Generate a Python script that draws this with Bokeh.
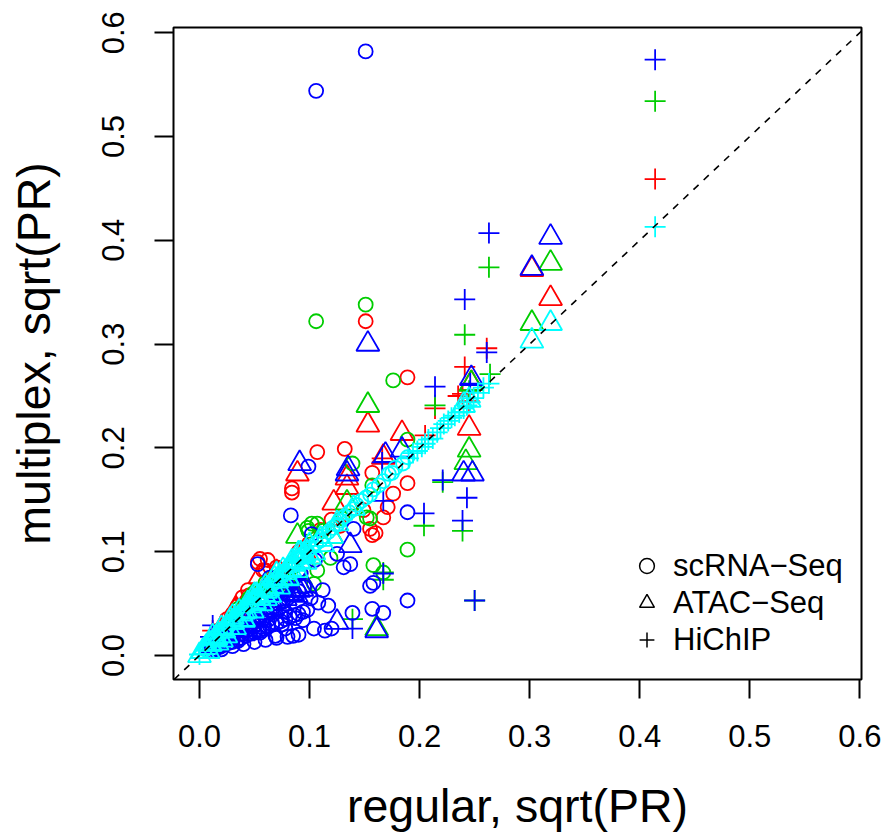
from bokeh.plotting import figure
from bokeh.models import Range1d, FixedTicker, PrintfTickFormatter, Slope, Legend, LegendItem
from bokeh.embed import file_html
from bokeh.resources import INLINE

FONT = "Liberation Sans"
NAN = float("nan")

x_ticks = [0.0, 0.1, 0.2, 0.3, 0.4, 0.5, 0.6]
y_ticks = [0.0, 0.1, 0.2, 0.3, 0.4, 0.5, 0.6]
legend_labels = ["scRNA\u2212Seq", "ATAC\u2212Seq", "HiChIP"]

# ---------------- red ----------------
red_circle_x = [0.151, 0.189, 0.107, 0.132, 0.084, 0.157, 0.189, 0.176, 0.171, 0.155, 0.157, 0.160,
                0.167, 0.149, 0.084, 0.053, 0.062, 0.058, 0.055, 0.060, 0.039, 0.044, 0.043, 0.030,
                0.070, 0.090, 0.110, 0.120, 0.128, 0.025, 0.035, 0.045, 0.075, 0.085]
red_circle_y = [0.322, 0.268, 0.196, 0.199, 0.161, 0.176, 0.166, 0.156, 0.143, 0.122, 0.116, 0.118,
                0.133, 0.140, 0.157, 0.090, 0.092, 0.082, 0.093, 0.082, 0.056, 0.063, 0.053, 0.040,
                0.085, 0.100, 0.121, 0.131, 0.125, 0.035, 0.048, 0.058, 0.070, 0.090]
red_tri_x = [0.319, 0.302, 0.153, 0.184, 0.245, 0.089, 0.134, 0.134, 0.122, 0.167, 0.247, 0.055,
             0.045, 0.070, 0.095, 0.033, 0.020, 0.060]
red_tri_y = [0.344, 0.372, 0.222, 0.214, 0.219, 0.175, 0.171, 0.162, 0.147, 0.191, 0.262, 0.076,
             0.052, 0.080, 0.100, 0.045, 0.026, 0.066]
red_cross_x = [0.414, 0.261, 0.241, 0.239, 0.214, 0.205, 0.245, 0.166, 0.235, 0.012, 0.020]
red_cross_y = [0.459, 0.296, 0.278, 0.252, 0.238, 0.212, 0.245, 0.190, 0.250, 0.024, 0.030]

# ---------------- green ----------------
green_circle_x = [0.151, 0.106, 0.176, 0.189, 0.189, 0.158, 0.167, 0.139, 0.107, 0.098, 0.112, 0.155,
                  0.102, 0.099, 0.119, 0.130, 0.052, 0.066, 0.107, 0.104, 0.040, 0.096, 0.157, 0.152,
                  0.060, 0.075, 0.085, 0.030, 0.020, 0.049, 0.058, 0.035, 0.045, 0.070, 0.080,
                  0.090, 0.065]
green_circle_y = [0.338, 0.322, 0.265, 0.208, 0.102, 0.087, 0.080, 0.185, 0.127, 0.123, 0.120, 0.132,
                  0.127, 0.120, 0.094, 0.132, 0.063, 0.066, 0.082, 0.069, 0.048, 0.067, 0.164, 0.133,
                  0.070, 0.080, 0.085, 0.035, 0.025, 0.060, 0.055, 0.045, 0.055, 0.060, 0.070,
                  0.080, 0.075]
green_tri_x = [0.319, 0.302, 0.153, 0.245, 0.242, 0.247, 0.161, 0.089, 0.134, 0.061, 0.075, 0.045,
               0.070, 0.120, 0.030, 0.055]
green_tri_y = [0.378, 0.320, 0.241, 0.198, 0.186, 0.262, 0.026, 0.115, 0.147, 0.058, 0.065, 0.042,
               0.068, 0.115, 0.030, 0.050]
green_cross_x = [0.414, 0.263, 0.241, 0.264, 0.214, 0.221, 0.204, 0.239, 0.167, 0.250, 0.139, 0.245,
                 0.167]
green_cross_y = [0.534, 0.374, 0.309, 0.271, 0.241, 0.167, 0.125, 0.120, 0.073, 0.053, 0.035, 0.255,
                 0.080]

# ---------------- blue ----------------
blue_circle_x = [0.151, 0.106, 0.099, 0.083, 0.189, 0.189, 0.137, 0.131, 0.125, 0.155, 0.158, 0.139,
                 0.157, 0.167, 0.114, 0.085, 0.069, 0.053, 0.112, 0.108, 0.117, 0.101, 0.087, 0.094,
                 0.078, 0.104, 0.120, 0.062, 0.057, 0.140, 0.102, 0.105, 0.064,
                 0.012, 0.016, 0.020, 0.024, 0.028, 0.032, 0.036, 0.040, 0.044, 0.048, 0.052, 0.056,
                 0.060, 0.064, 0.068, 0.072, 0.076, 0.080, 0.085, 0.090, 0.095, 0.018, 0.026, 0.034,
                 0.042, 0.050, 0.058, 0.066, 0.074, 0.082, 0.092, 0.030, 0.046, 0.062, 0.078,
                 0.020, 0.030, 0.040, 0.050, 0.060, 0.070, 0.080, 0.090, 0.035, 0.055, 0.075,
                 0.010, 0.014, 0.018, 0.022, 0.026, 0.030, 0.034, 0.038, 0.042, 0.046, 0.050, 0.054,
                 0.058, 0.062, 0.066, 0.070, 0.074, 0.078, 0.082, 0.086, 0.090, 0.094, 0.098]
blue_circle_y = [0.582, 0.544, 0.182, 0.135, 0.138, 0.053, 0.088, 0.085, 0.098, 0.067, 0.070, 0.041,
                 0.045, 0.041, 0.024, 0.019, 0.019, 0.088, 0.063, 0.051, 0.048, 0.055, 0.036, 0.034,
                 0.026, 0.026, 0.026, 0.039, 0.024, 0.122, 0.117, 0.092, 0.075,
                 0.010, 0.012, 0.015, 0.017, 0.020, 0.022, 0.025, 0.028, 0.030, 0.033, 0.035, 0.038,
                 0.041, 0.044, 0.047, 0.050, 0.052, 0.055, 0.059, 0.062, 0.066, 0.016, 0.022, 0.029,
                 0.036, 0.043, 0.050, 0.057, 0.064, 0.070, 0.079, 0.018, 0.026, 0.034, 0.042,
                 0.006, 0.009, 0.011, 0.013, 0.015, 0.017, 0.018, 0.020, 0.014, 0.022, 0.030,
                 0.005, 0.006, 0.008, 0.010, 0.012, 0.013, 0.015, 0.017, 0.019, 0.021, 0.022, 0.024,
                 0.026, 0.028, 0.030, 0.031, 0.033, 0.035, 0.037, 0.039, 0.040, 0.042, 0.044]
blue_tri_x = [0.319, 0.302, 0.247, 0.240, 0.248, 0.153, 0.091, 0.134, 0.135, 0.169, 0.184, 0.137,
              0.161, 0.125, 0.078, 0.084, 0.072,
              0.015, 0.025, 0.035, 0.045, 0.055, 0.065, 0.088, 0.093, 0.050, 0.040,
              0.012, 0.018, 0.024, 0.030, 0.036, 0.042, 0.048, 0.054, 0.060, 0.066, 0.072, 0.078,
              0.084, 0.090, 0.096]
blue_tri_y = [0.403, 0.373, 0.267, 0.175, 0.175, 0.300, 0.185, 0.175, 0.180, 0.193, 0.198, 0.106,
              0.024, 0.032, 0.063, 0.060, 0.053,
              0.011, 0.017, 0.024, 0.030, 0.036, 0.044, 0.058, 0.064, 0.028, 0.021,
              0.009, 0.013, 0.017, 0.021, 0.025, 0.029, 0.034, 0.038, 0.042, 0.046, 0.050, 0.055,
              0.059, 0.063, 0.067]
blue_cross_x = [0.414, 0.263, 0.241, 0.261, 0.214, 0.246, 0.221, 0.243, 0.204, 0.239, 0.167, 0.250,
                0.139, 0.167, 0.166, 0.012, 0.018, 0.010]
blue_cross_y = [0.574, 0.407, 0.343, 0.292, 0.259, 0.262, 0.169, 0.152, 0.137, 0.130, 0.079, 0.053,
                0.026, 0.149, 0.186, 0.029, 0.022, 0.018]

# ---------------- cyan ----------------
cyan_circle_x = [0.189, 0.178, 0.172, 0.167, 0.158, 0.151, 0.143, 0.136, 0.128, 0.121, 0.113, 0.106,
                 0.098, 0.091, 0.083, 0.076, 0.068, 0.061, 0.054, 0.047, 0.040, 0.033, 0.026, 0.019,
                 0.012, 0.005, 0.185, 0.175, 0.163, 0.155, 0.147, 0.140, 0.132, 0.125, 0.117, 0.110,
                 0.102]
cyan_circle_y = [0.191, 0.181, 0.175, 0.168, 0.160, 0.152, 0.145, 0.138, 0.130, 0.123, 0.115, 0.108,
                 0.100, 0.093, 0.086, 0.078, 0.070, 0.063, 0.056, 0.049, 0.042, 0.035, 0.028, 0.021,
                 0.014, 0.006, 0.185, 0.176, 0.164, 0.155, 0.149, 0.141, 0.134, 0.126, 0.119, 0.111,
                 0.104]
cyan_tri_x = [0.319, 0.302, 0.000, 0.003, 0.245, 0.240, 0.140, 0.125, 0.110, 0.095, 0.080, 0.070,
              0.060, 0.050, 0.040, 0.030, 0.022, 0.015, 0.009,
              0.006, 0.010, 0.014, 0.018, 0.022, 0.026, 0.030, 0.034, 0.038, 0.042, 0.046, 0.050,
              0.054, 0.058, 0.062, 0.066, 0.070, 0.074, 0.078, 0.082, 0.086, 0.090, 0.094, 0.098,
              0.020, 0.040, 0.060, 0.080, 0.100, 0.030, 0.050, 0.070, 0.090,
              0.008, 0.016, 0.024, 0.032, 0.040, 0.048, 0.056, 0.064, 0.072, 0.080, 0.088, 0.096,
              0.104, 0.112, 0.120,
              0.012, 0.020, 0.028, 0.036, 0.044, 0.052, 0.060, 0.068, 0.076, 0.084, 0.092, 0.100]
cyan_tri_y = [0.320, 0.303, 0.000, 0.004, 0.246, 0.241, 0.142, 0.127, 0.112, 0.097, 0.082, 0.072,
              0.062, 0.052, 0.042, 0.032, 0.024, 0.017, 0.011,
              0.008, 0.011, 0.016, 0.019, 0.024, 0.027, 0.032, 0.035, 0.040, 0.043, 0.048, 0.051,
              0.056, 0.059, 0.064, 0.067, 0.072, 0.075, 0.080, 0.083, 0.088, 0.091, 0.096, 0.099,
              0.015, 0.034, 0.055, 0.075, 0.095, 0.037, 0.058, 0.078, 0.098,
              0.004, 0.012, 0.019, 0.027, 0.035, 0.043, 0.050, 0.058, 0.066, 0.074, 0.082, 0.090,
              0.099, 0.107, 0.115,
              0.018, 0.026, 0.034, 0.042, 0.050, 0.058, 0.066, 0.074, 0.082, 0.090, 0.098, 0.106]
cyan_cross_x = [0.414, 0.263, 0.253, 0.249, 0.246, 0.243, 0.240, 0.236, 0.232, 0.226, 0.219, 0.212,
                0.205, 0.198, 0.130, 0.100, 0.075, 0.050, 0.030, 0.015, 0.000,
                0.258, 0.229, 0.222, 0.216, 0.208, 0.202, 0.194, 0.190]
cyan_cross_y = [0.413, 0.262, 0.253, 0.248, 0.244, 0.241, 0.238, 0.234, 0.231, 0.226, 0.219, 0.209,
                0.204, 0.197, 0.131, 0.101, 0.076, 0.051, 0.031, 0.016, 0.001,
                0.258, 0.229, 0.223, 0.215, 0.208, 0.201, 0.195, 0.190]

series = [
    ("#FF0000", red_circle_x, red_circle_y, red_tri_x, red_tri_y, red_cross_x, red_cross_y),
    ("#00CD00", green_circle_x, green_circle_y, green_tri_x, green_tri_y, green_cross_x, green_cross_y),
    ("#0000FF", blue_circle_x, blue_circle_y, blue_tri_x, blue_tri_y, blue_cross_x, blue_cross_y),
    ("#00FFFF", cyan_circle_x, cyan_circle_y, cyan_tri_x, cyan_tri_y, cyan_cross_x, cyan_cross_y),
]

p = figure(width=886, height=835, output_backend="svg", toolbar_location=None,
           x_range=Range1d(-0.0236, 0.6015), y_range=Range1d(-0.0231, 0.605),
           min_border_left=173, min_border_right=25, min_border_top=27, min_border_bottom=156)
p.background_fill_color = "white"
p.border_fill_color = "white"
p.outline_line_color = "black"
p.outline_line_width = 2
p.xgrid.visible = False
p.ygrid.visible = False

LW = 1.8
for color, cx, cy, tx, ty, px_, py_ in series:
    p.scatter(cx, cy, marker="circle", size=14, line_color=color, fill_color=None, line_width=LW)
    p.scatter(tx, ty, marker="triangle", size=23, line_color=color, fill_color=None, line_width=LW)
    p.scatter(px_, py_, marker="cross", size=21, line_color=color, line_width=LW)

p.add_layout(Slope(gradient=1, y_intercept=0, line_color="black", line_dash="7 7", line_width=1.6))

for ax, ticks in ((p.xaxis, x_ticks), (p.yaxis, y_ticks)):
    ax.ticker = FixedTicker(ticks=ticks)
    ax.formatter = PrintfTickFormatter(format="%.1f")
    ax.minor_tick_line_color = None
    ax.major_tick_in = 0
    ax.major_tick_out = 19
    ax.major_tick_line_width = 2
    ax.major_tick_line_color = "black"
    ax.axis_line_color = None
    ax.major_label_text_font = FONT
    ax.major_label_text_font_size = "31px"
    ax.major_label_text_color = "black"
    ax.axis_label_text_font = FONT
    ax.axis_label_text_font_size = "46.5px"
    ax.axis_label_text_font_style = "normal"
    ax.axis_label_text_color = "black"

p.xaxis.axis_label = "regular, sqrt(PR)"
p.yaxis.axis_label = "multiplex, sqrt(PR)"
p.xaxis.major_label_standoff = 26
p.yaxis.major_label_standoff = 30
p.yaxis.major_label_orientation = "vertical"
p.xaxis.axis_label_standoff = 30
p.yaxis.axis_label_standoff = 40

# legend (black symbols, no box)
leg_r = [
    p.scatter([NAN], [NAN], marker="circle", size=14, line_color="black", fill_color=None, line_width=1.5),
    p.scatter([NAN], [NAN], marker="triangle", size=23, line_color="black", fill_color=None, line_width=1.5),
    p.scatter([NAN], [NAN], marker="cross", size=21, line_color="black", line_width=1.5),
]
legend = Legend(items=[LegendItem(label=l, renderers=[r]) for l, r in zip(legend_labels, leg_r)],
                location=(455, 21), border_line_alpha=0, background_fill_alpha=0,
                padding=0, margin=0, spacing=0, glyph_width=37, glyph_height=37,
                label_height=37, label_standoff=8,
                label_text_font=FONT, label_text_font_size="31px", label_text_color="black",
                label_text_baseline="middle")
p.add_layout(legend)

open("out.html", "w").write(file_html(p, INLINE))
